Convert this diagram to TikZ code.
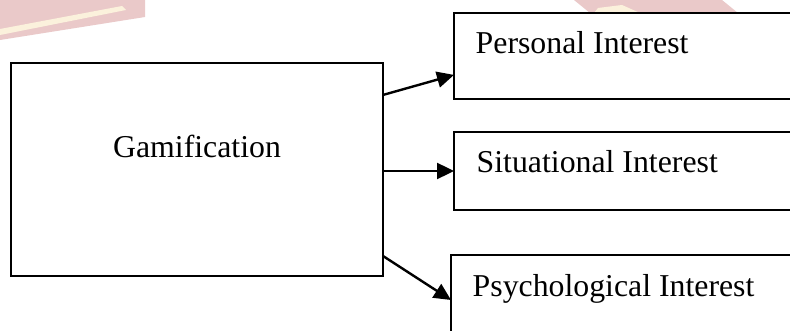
\documentclass[tikz,border=0pt]{standalone}
\usepackage{fontspec}
\setmainfont{Liberation Serif}
\usetikzlibrary{arrows.meta,calc}
\definecolor{wmpink}{HTML}{EAC9C9}
\definecolor{wmcream}{HTML}{FBF1DC}
\begin{document}
\begin{tikzpicture}[x=1pt,y=-1pt,
  box/.style={draw,line width=2.6pt,fill=white,rectangle,inner sep=0pt,outer sep=0pt,anchor=north west},
  lbl/.style={font=\fontsize{31.8}{38}\selectfont,inner sep=0pt,anchor=base west},
  arr/.style={line width=2.4pt,-{Triangle[length=17pt,width=16pt]}}]
\clip (0,0) rectangle (790,331);
\fill[white] (0,0) rectangle (790,331);
% faint watermark
\fill[wmpink] (0,0) -- (145,0) -- (145,17) -- (0,40) -- cycle;
\fill[wmcream] (0,29) -- (122,6) -- (126,10) -- (0,35) -- cycle;
\fill[wmpink] (574,0) -- (722,0) -- (738,13) -- (590,13) -- cycle;
\fill[wmcream] (598,8) -- (622,5) -- (640,13) -- (594,13) -- cycle;
% boxes
\node[box,minimum width=372pt,minimum height=213pt] (gam) at (11,63) {};
\node[box,minimum width=346pt,minimum height=86pt] (pers) at (454,13) {};
\node[box,minimum width=346pt,minimum height=78pt] (sit) at (454,132) {};
\node[box,minimum width=349pt,minimum height=100pt] (psy) at (451,255) {};
% labels
\node[lbl,anchor=base] (tgam) at (197,158) {Gamification};
\node[lbl] (tpers) at (475.5,54) {Personal Interest};
\node[lbl] (tsit) at (476.5,173) {Situational Interest};
\node[lbl] (tpsy) at (472.5,296) {Psychological Interest};
% connectors
\draw[arr] ($(gam.north east)!0.15!(gam.south east)$) -- ($(pers.north west)!0.72!(pers.south west)$);
\draw[arr] (gam.east |- sit.west) -- (sit.west);
\draw[arr] ($(gam.north east)!0.906!(gam.south east)$) -- ($(psy.north west)!0.45!(psy.south west)$);
\end{tikzpicture}
\end{document}
